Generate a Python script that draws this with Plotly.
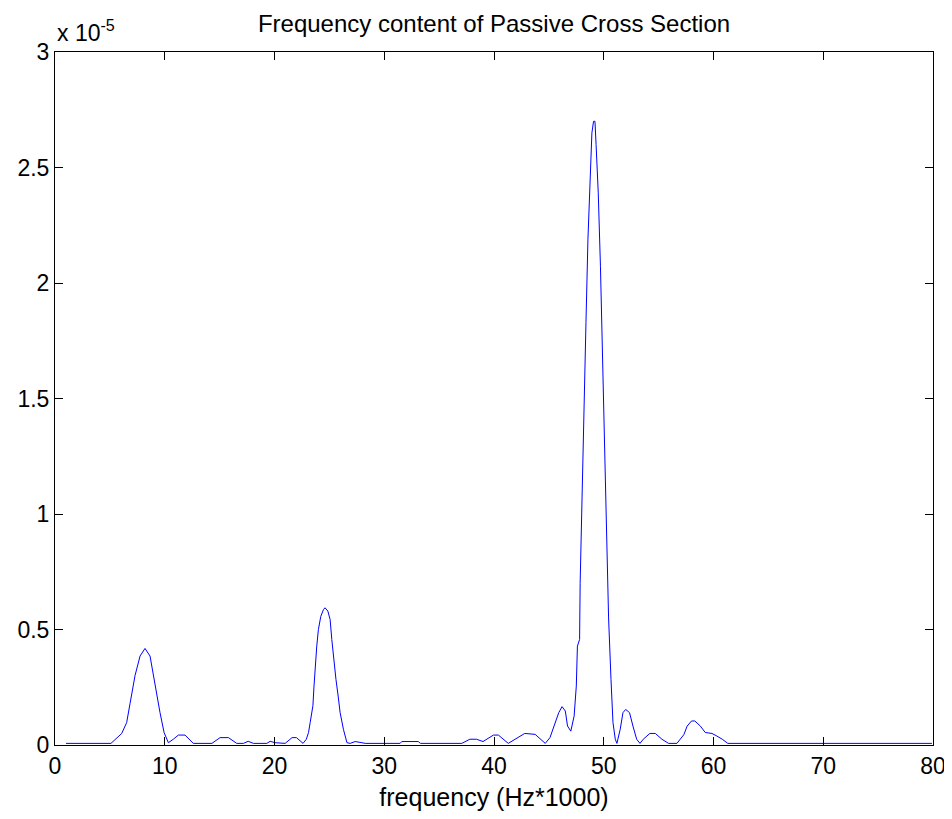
import plotly.graph_objects as go

# spectrum (frequency in Hz*1000, magnitude in units of 1e-5)
freq = [1.0, 5.1, 6.08, 6.53, 6.84, 7.29, 7.75, 8.2, 8.66, 9.12, 9.57, 9.94,
        10.33, 10.78, 11.24, 11.85, 12.6, 14.3, 15.04, 15.8, 16.56, 17.17, 17.6,
        18.08, 19.3, 19.6, 20.05, 20.97, 21.6, 22.0, 22.6, 22.9, 23.1, 23.25,
        23.5, 23.6, 23.73, 23.85, 24.0, 24.22, 24.46, 24.6, 24.86, 25.07, 25.22,
        25.43, 25.6, 25.8, 25.98, 26.28, 26.6, 26.9, 27.35, 27.96, 28.26, 31.45,
        31.6, 33.1, 33.3, 37.07, 37.8, 38.4, 39.0, 39.95, 40.4, 41.3, 42.1, 42.8,
        43.75, 44.67, 45.1, 45.6, 45.9, 46.2, 46.5, 46.7, 47.0, 47.3, 47.5, 47.6,
        47.8, 47.85, 48.0, 48.16, 48.38, 48.56, 48.77, 48.92, 49.07, 49.2, 49.3,
        49.5, 49.7, 49.9, 50.07, 50.3, 50.44, 50.66, 50.84, 51.05, 51.2, 51.5,
        51.75, 52.0, 52.35, 52.66, 53.0, 53.3, 53.6, 54.2, 54.7, 55.3, 55.9,
        56.67, 57.3, 57.6, 58.0, 58.3, 58.8, 59.25, 59.86, 60.3, 60.8, 61.3, 79.9]
magnitude = [0.007, 0.007, 0.05, 0.097, 0.18, 0.30, 0.385, 0.418, 0.385, 0.255,
             0.14, 0.054, 0.01, 0.025, 0.043, 0.043, 0.007, 0.007, 0.032, 0.032,
             0.007, 0.007, 0.016, 0.007, 0.007, 0.016, 0.01, 0.007, 0.032, 0.032,
             0.007, 0.025, 0.054, 0.097, 0.17, 0.255, 0.356, 0.428, 0.5, 0.557,
             0.586, 0.594, 0.58, 0.543, 0.457, 0.356, 0.284, 0.212, 0.14, 0.068,
             0.01, 0.007, 0.015, 0.01, 0.007, 0.007, 0.015, 0.015, 0.007, 0.007,
             0.025, 0.025, 0.015, 0.043, 0.043, 0.007, 0.032, 0.05, 0.046, 0.007,
             0.032, 0.097, 0.14, 0.166, 0.147, 0.082, 0.06, 0.125, 0.255, 0.428,
             0.457, 0.70, 1.06, 1.44, 1.83, 2.19, 2.47, 2.65, 2.70, 2.70, 2.60,
             2.39, 2.07, 1.65, 1.26, 0.80, 0.55, 0.284, 0.097, 0.025, 0.007, 0.068,
             0.14, 0.154, 0.14, 0.082, 0.025, 0.007, 0.025, 0.05, 0.05, 0.025,
             0.007, 0.007, 0.045, 0.082, 0.104, 0.104, 0.082, 0.054, 0.05, 0.039,
             0.025, 0.007, 0.007]

x_ticks = [0, 10, 20, 30, 40, 50, 60, 70, 80]
y_ticks = [0, 0.5, 1, 1.5, 2, 2.5, 3]
y_labels = ["0", "0.5", "1", "1.5", "2", "2.5", "3"]

font = "Liberation Sans, Arial, sans-serif"

fig = go.Figure()
fig.add_trace(go.Scatter(x=freq, y=magnitude, mode="lines",
                         line=dict(color="#0000ff", width=1)))

axis_style = dict(showline=True, linecolor="black", linewidth=1, mirror="ticks",
                  ticks="inside", ticklen=8, tickcolor="black", showgrid=False,
                  zeroline=False, automargin=False, ticklabeloverflow="allow",
                  tickfont=dict(family=font, size=23, color="black"))

fig.update_xaxes(range=[0, 80], tickvals=x_ticks,
                 title=dict(text="frequency (Hz*1000)",
                            font=dict(family=font, size=25, color="black"),
                            standoff=10),
                 **axis_style)
fig.update_yaxes(range=[0, 3], tickvals=y_ticks, ticktext=y_labels, **axis_style)

# the page body adds 8px around the figure, so shift margins by that amount
fig.update_layout(
    width=940, height=803,
    margin=dict(l=47, r=15, t=44, b=66),
    paper_bgcolor="white", plot_bgcolor="white",
    showlegend=False,
    title=dict(text="Frequency content of Passive Cross Section",
               x=0.5, xref="paper", y=1, yref="paper", yanchor="bottom", pad=dict(b=20),
               font=dict(family=font, size=24, color="black")),
    annotations=[dict(text="x 10<sup>-5</sup>", xref="paper", yref="paper",
                      x=0, y=1, xanchor="left", yanchor="bottom", yshift=4,
                      showarrow=False, font=dict(family=font, size=23, color="black"))],
)

fig.write_html("out.html")
